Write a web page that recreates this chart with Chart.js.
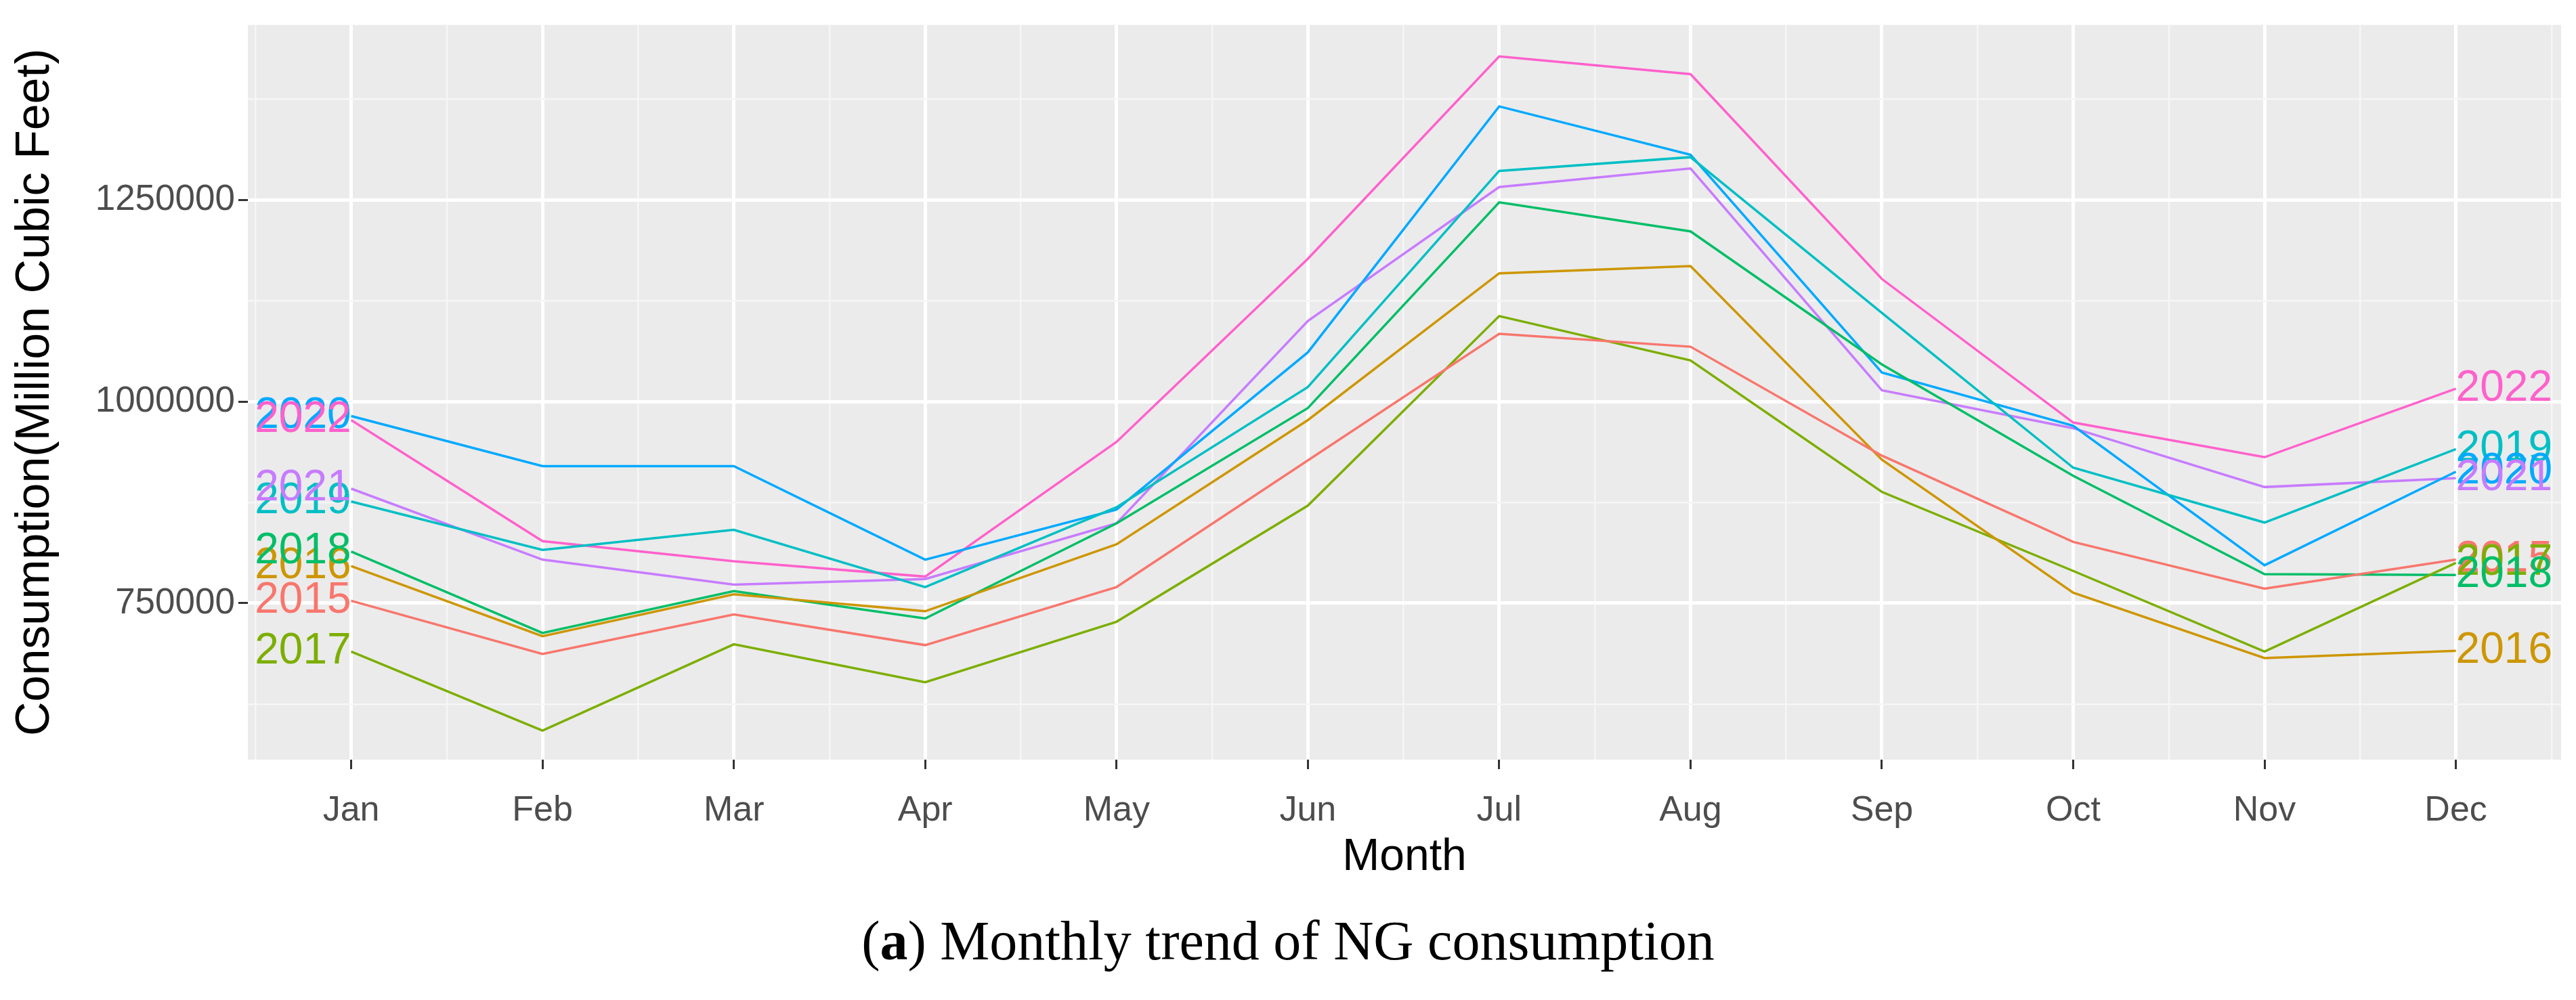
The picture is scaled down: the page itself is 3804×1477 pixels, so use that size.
<!DOCTYPE html>
<html>
<head>
<meta charset="utf-8">
<title>Monthly trend of NG consumption</title>
<script src="https://cdn.jsdelivr.net/npm/chart.js@4.4.1/dist/chart.umd.min.js"></script>
<style>
  body { margin: 0; background: #fff; }
  #wrap { position: relative; width: 3804px; height: 1330px; }
  #caption {
    position: absolute; left: 0; top: 1349px; width: 3804px;
    text-align: center; font-family: 'Liberation Serif', serif;
    font-size: 82px; line-height: 82px; color: #000;
  }
</style>
</head>
<body>
<div id="wrap"><canvas id="ngChart"></canvas></div>
<div id="caption">(<b>a</b>) Monthly trend of NG consumption</div>
<script>
// Categories and series (Million Cubic Feet)
const months = ['Jan', 'Feb', 'Mar', 'Apr', 'May', 'Jun', 'Jul', 'Aug', 'Sep', 'Oct', 'Nov', 'Dec'];
const years = ['2015', '2016', '2017', '2018', '2019', '2020', '2021', '2022'];

const ng2015 = [753000, 687000, 736000, 698000, 770000, 927000, 1084000, 1068000, 933000, 826000, 768000, 804000];
const ng2016 = [796000, 709000, 761000, 740000, 823000, 977000, 1159000, 1168000, 928000, 763000, 682000, 691000];
const ng2017 = [690000, 592000, 699000, 652000, 727000, 871000, 1106000, 1051000, 888000, 790000, 690000, 800000];
const ng2018 = [814000, 713000, 765000, 731000, 849000, 992000, 1247000, 1211000, 1046000, 908000, 786000, 785000];
const ng2019 = [876000, 816000, 841000, 770000, 869000, 1018000, 1286000, 1303000, 1110000, 918000, 850000, 941000];
const ng2020 = [982000, 920000, 920000, 804000, 866000, 1061000, 1366000, 1306000, 1036000, 970000, 797000, 913000];
const ng2021 = [892000, 804000, 773000, 780000, 849000, 1100000, 1266000, 1289000, 1014000, 967000, 894000, 905000];
const ng2022 = [977000, 827000, 802000, 783000, 950000, 1177000, 1428000, 1406000, 1152000, 974000, 931000, 1016000];

const seriesValues = [ng2015, ng2016, ng2017, ng2018, ng2019, ng2020, ng2021, ng2022];

// y axis: labelled ticks and minor grid positions
const yMajorTicks = [750000, 1000000, 1250000];
const yMinorTicks = [625000, 875000, 1125000, 1375000];

// ggplot default hue palette for 8 groups
const colors = ['#F8766D', '#CD9600', '#7CAE00', '#00BE67', '#00BFC4', '#00A9FF', '#C77CFF', '#FF61CC'];

const sansFont = "'Liberation Sans', Arial, sans-serif";

const datasets = years.map(function (yr, i) {
  return {
    label: yr,
    data: seriesValues[i].map(function (v, m) { return { x: m, y: v }; }),
    borderColor: colors[i],
    backgroundColor: colors[i],
    borderWidth: 3.5,
    pointRadius: 0,
    tension: 0,
    fill: false,
  };
});

// grey panel behind the grid
const panelBg = {
  id: 'panelBg',
  beforeDraw(chart) {
    const { ctx, chartArea: a } = chart;
    ctx.save();
    ctx.fillStyle = '#EBEBEB';
    ctx.fillRect(a.left, a.top, a.right - a.left, a.bottom - a.top);
    ctx.restore();
  },
};

// year labels at both ends of each line
const endLabels = {
  id: 'endLabels',
  afterDatasetsDraw(chart) {
    const ctx = chart.ctx;
    ctx.save();
    ctx.font = '64px ' + sansFont;
    ctx.textBaseline = 'middle';
    chart.data.datasets.forEach(function (ds, i) {
      const pts = chart.getDatasetMeta(i).data;
      const first = pts[0];
      const last = pts[pts.length - 1];
      ctx.fillStyle = ds.borderColor;
      ctx.textAlign = 'right';
      ctx.fillText(ds.label, first.x, first.y);
      ctx.textAlign = 'left';
      ctx.fillText(ds.label, last.x, last.y);
    });
    ctx.restore();
  },
};

const ctx = document.getElementById('ngChart').getContext('2d');

const ngChart = new Chart(ctx, {
  type: 'line',
  data: { datasets: datasets },
  plugins: [panelBg, endLabels],
  options: {
    responsive: true,
    maintainAspectRatio: false,
    devicePixelRatio: 1,
    animation: false,
    layout: { padding: { top: 24, right: 22, left: 0, bottom: 0 } },
    plugins: {
      legend: { display: false },
      tooltip: { enabled: false },
    },
    scales: {
      x: {
        type: 'linear',
        min: -0.54,
        max: 11.55,
        afterBuildTicks: function (scale) {
          const t = [];
          for (let v = -0.5; v <= 11.5; v += 0.5) t.push({ value: v });
          scale.ticks = t;
        },
        afterFit: function (scale) { scale.height = 208; },
        border: { display: false },
        grid: {
          color: function (c) { return c.tick && Number.isInteger(c.tick.value) ? '#FFFFFF' : '#F6F6F6'; },
          lineWidth: function (c) { return c.tick && Number.isInteger(c.tick.value) ? 5 : 2.5; },
          drawTicks: true,
          tickLength: 14,
          tickColor: function (c) { return c.tick && Number.isInteger(c.tick.value) ? '#333333' : 'rgba(0,0,0,0)'; },
          tickWidth: 3,
        },
        ticks: {
          autoSkip: false,
          maxRotation: 0,
          padding: 30,
          color: '#4D4D4D',
          font: { size: 52, family: sansFont },
          callback: function (value) {
            return Number.isInteger(value) ? months[value] : '';
          },
        },
        title: {
          display: true,
          text: 'Month',
          color: '#000000',
          font: { size: 66, family: sansFont },
          padding: { top: 0, bottom: 24 },
        },
      },
      y: {
        min: 556000,
        max: 1467000,
        afterBuildTicks: function (scale) {
          scale.ticks = yMinorTicks.concat(yMajorTicks)
            .sort(function (a, b) { return a - b; })
            .map(function (v) { return { value: v }; });
        },
        afterFit: function (scale) { scale.width = 366; },
        border: { display: false },
        grid: {
          color: function (c) { return c.tick && yMajorTicks.includes(c.tick.value) ? '#FFFFFF' : '#F6F6F6'; },
          lineWidth: function (c) { return c.tick && yMajorTicks.includes(c.tick.value) ? 5 : 2.5; },
          drawTicks: true,
          tickLength: 14,
          tickColor: function (c) { return c.tick && yMajorTicks.includes(c.tick.value) ? '#333333' : 'rgba(0,0,0,0)'; },
          tickWidth: 3,
        },
        ticks: {
          autoSkip: false,
          padding: 5,
          color: '#4D4D4D',
          font: { size: 53, family: sansFont },
          callback: function (value) {
            return yMajorTicks.includes(value) ? String(value) : '';
          },
        },
        title: {
          display: true,
          text: 'Consumption(Million Cubic Feet)',
          color: '#000000',
          font: { size: 70, family: sansFont },
          padding: { top: 11, bottom: 0 },
        },
      },
    },
  },
});
</script>
</body>
</html>
